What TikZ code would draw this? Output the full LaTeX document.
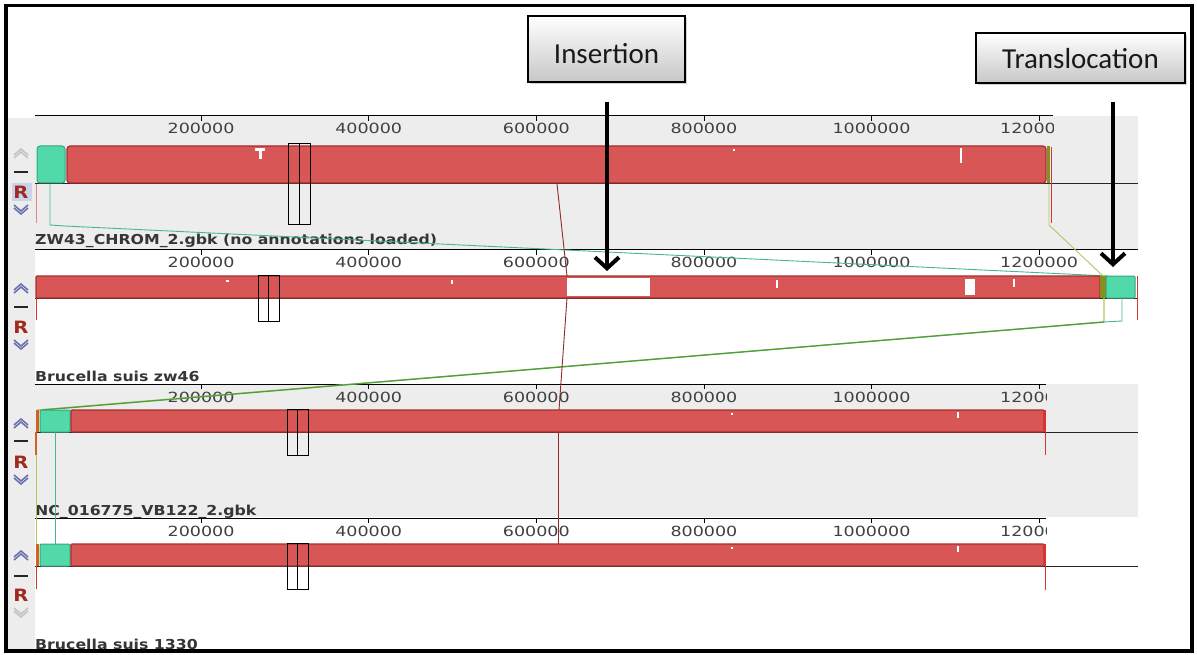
\documentclass[tikz,border=0pt]{standalone}
\usepackage{fontspec}
\usetikzlibrary{arrows.meta,shadows}
\newfontfamily\tickfont[FakeStretch=1.25]{DejaVu Sans}
\newfontfamily\labfont[FakeStretch=1.15]{DejaVu Sans}
\newfontfamily\callfont{Carlito}
\definecolor{panelgray}{HTML}{EDEDED}
\definecolor{blockred}{HTML}{D95656}
\definecolor{blockredd}{HTML}{A33030}
\definecolor{blockgreen}{HTML}{52D9A9}
\definecolor{blockgreend}{HTML}{35A57E}
\definecolor{tealline}{HTML}{44B894}
\definecolor{oliveline}{HTML}{B8C45E}
\definecolor{greenline}{HTML}{4C9E3E}
\definecolor{olivebar}{HTML}{86901E}
\definecolor{orangebar}{HTML}{D0641E}
\definecolor{lcbred}{HTML}{8E2B2B}
\definecolor{endred}{HTML}{D43636}
\definecolor{ctrlblue}{HTML}{6B74B0}
\definecolor{ctrlgray}{HTML}{C4C4C4}
\definecolor{rred}{HTML}{A02A1E}
\definecolor{rhigh}{HTML}{C9D3EA}
\definecolor{tickgray}{HTML}{404040}
\definecolor{labgray}{HTML}{363636}
\tikzset{
  redblock/.style={fill=blockred, draw=blockredd, line width=1.2pt, rounded corners=3pt},
  flatred/.style={fill=blockred, draw=blockredd, line width=1.2pt, rounded corners=1pt},
  greenblock/.style={fill=blockgreen, draw=blockgreend, line width=1pt, rounded corners=3pt},
  featbox/.style={draw=black, line width=0.8pt},
  rulerline/.style={draw=black, line width=1pt},
  axisline/.style={draw=black!85, line width=1pt},
  ticklab/.style={font=\tickfont\fontsize{14}{14}\selectfont, text=tickgray, anchor=base, inner sep=0pt},
  gname/.style={font=\labfont\bfseries\fontsize{13.7}{14}\selectfont, text=labgray, anchor=base west, inner sep=0pt},
  callout/.style={draw=black, line width=1.2pt, top color=white, bottom color=black!22,
     drop shadow={shadow xshift=2pt, shadow yshift=-2pt, opacity=0.35},
     font=\callfont\fontsize{29}{30}\selectfont, text=black!90, inner sep=0pt},
  bigarrow/.style={line width=4pt, -{Straight Barb[length=11pt,width=24pt]}},
  lcb/.style={line width=0.9pt},
  whitemark/.style={fill=white, draw=none},
  chev/.style={line width=1.6pt},
  rlabel/.style={font=\labfont\bfseries\fontsize{17}{17}\selectfont, text=rred, inner sep=0pt},
}
\begin{document}
\begin{tikzpicture}[x=1pt,y=-1pt]
\useasboundingbox (0,0) rectangle (1197,655);
\fill[white] (0,0) rectangle (1197,655);
% backgrounds
\fill[panelgray] (8,118) rectangle (35,651);
\fill[panelgray] (35,116) rectangle (1138,250);
\fill[panelgray] (35,384) rectangle (1138,517);
% rulers
\draw[rulerline] (35,116) -- (1053,116);
\draw[rulerline] (35,250) -- (1138,250);
\draw[rulerline] (35,384) -- (1046,384);
\draw[rulerline] (35,518) -- (1046,518);
% ticks and labels
\foreach \ry/\rb/\cx in {116/134/1053, 250/268/1140, 384/402/1046, 518/536/1046}{
  \begin{scope}
    \clip (35,\ry-2) rectangle (\cx,\rb+6);
    \foreach \i/\lab in {1/200000,2/400000,3/600000,4/800000,5/1000000,6/1200000}{
      \draw[black, line width=0.8pt] ({33.5+\i*167.6},\ry) -- ({33.5+\i*167.6},\ry+5);
      \node[ticklab] (t\ry\i) at ({33.5+\i*167.6},\rb) {\lab};
    }
  \end{scope}
}
% genome names
\node[gname] (n1) at (35,245) {ZW43\_CHROM\_2.gbk (no annotations loaded)};
\node[gname] (n2) at (35,381) {Brucella suis zw46};
\node[gname] (n3) at (35,515) {NC\_016775\_VB122\_2.gbk};
\node[gname] (n4) at (35,649) {Brucella suis 1330};
% axis lines
\draw[axisline] (35,184) -- (1138,184);
\draw[axisline] (35,298) -- (1138,298);
\draw[axisline] (35,432) -- (1138,432);
\draw[axisline] (35,566) -- (1138,566);
% connection coordinates
\coordinate (g1b) at (50,184);
\coordinate (g1k) at (50,225);
\coordinate (g2t) at (1108,276);
\coordinate (o1b) at (1049,184);
\coordinate (o1k) at (1049,225);
\coordinate (o2t) at (1103,276);
\coordinate (g2b) at (1122,298);
\coordinate (g2k) at (1122,321);
\coordinate (o2b) at (1104,298);
\coordinate (o2k) at (1104,322);
\coordinate (g3t) at (42,410);
\coordinate (o3t) at (37,410);
\coordinate (g3b) at (55,432);
\coordinate (g4t) at (55,544);
\coordinate (o3b) at (36.5,455);
\coordinate (o4t) at (36.5,544);
\coordinate (r1b) at (557,184);
\coordinate (r2t) at (567,276);
\coordinate (r2b) at (567,298);
\coordinate (r3t) at (559,410);
\coordinate (r3b) at (558,432);
\coordinate (r4t) at (558,544);
% connection lines
\draw[lcb, tealline] (g1b) -- (g1k) -- (65,226) -- (g2t);
\draw[lcb, oliveline] (o1b) -- (o1k) -- (o2t);
\draw[lcb, tealline] (g2b) -- (g2k) -- (o2k);
\draw[lcb, oliveline, line width=1.2pt] (o2b) -- (o2k) -- (o3t);
\draw[lcb, greenline, line width=1.3pt] (o2k) -- (g3t);
\draw[lcb, tealline] (g3b) -- (g4t);
\draw[lcb, oliveline] (o3b) -- (o4t);
\draw[lcb, lcbred] (r1b) -- (r2t);
\draw[lcb, lcbred] (r2b) -- (r3t);
\draw[lcb, lcbred] (r3b) -- (r4t);
% end ticks
\draw[line width=1pt, endred!60] (36,184) -- (36,223);
\draw[line width=1pt, endred] (1051,147) -- (1051,223);
\draw[line width=1pt, endred] (36,298) -- (36,320);
\draw[line width=1pt, endred] (1137,276) -- (1137,320);
\draw[line width=1.2pt, orangebar] (36,432) -- (36,455);
\draw[line width=1pt, endred] (1045,432) -- (1045,455);
\draw[line width=1pt, endred] (36,566) -- (36,589);
\draw[line width=1pt, endred] (1045,566) -- (1045,590);
% panel 1 blocks
\draw[greenblock] (37,146) rectangle (65,183);
\draw[redblock] (67,146) rectangle (1046,183);
\fill[olivebar] (1046.5,146) rectangle (1050,183);
\fill[whitemark] (255,148) rectangle (265,151);
\fill[whitemark] (258.5,148) rectangle (261.5,159);
\fill[whitemark] (733,149) rectangle (735,151);
\fill[whitemark] (959.5,148) rectangle (961.5,163);
% panel 2 blocks
\draw[flatred] (36,276) rectangle (1100,298);
\fill[olivebar] (1100,276) rectangle (1106,298);
\draw[greenblock, rounded corners=1pt] (1106,276) rectangle (1135,298);
\fill[whitemark] (567,278) rectangle (650,296);
\fill[whitemark] (965,279) rectangle (975,295);
\fill[whitemark] (226,280) rectangle (229,282);
\fill[whitemark] (451,280) rectangle (453,284);
\fill[whitemark] (776,280) rectangle (778,288);
\fill[whitemark] (1013,279) rectangle (1015,287);
% panel 3 blocks
\fill[orangebar] (35.5,410) rectangle (39,432);
\draw[greenblock, rounded corners=1pt] (40,410) rectangle (70,432);
\draw[flatred] (71,410) rectangle (1044,432);
\fill[endred] (1043,410) rectangle (1046,432);
\fill[whitemark] (731,413) rectangle (733,415);
\fill[whitemark] (957,412) rectangle (959,418);
% panel 4 blocks
\fill[orangebar] (35.5,544) rectangle (39,566);
\draw[greenblock, rounded corners=1pt] (40,544) rectangle (70,566);
\draw[flatred] (71,544) rectangle (1044,566);
\fill[endred] (1043,544) rectangle (1046,566);
\fill[whitemark] (731,547) rectangle (733,549);
\fill[whitemark] (957,546) rectangle (959,552);
% feature boxes
\draw[featbox] (288,143) rectangle (299,224);
\draw[featbox] (299,143) rectangle (310,224);
\draw[featbox] (258,275) rectangle (268,321);
\draw[featbox] (268,275) rectangle (279,321);
\draw[featbox] (287,409) rectangle (297.5,455);
\draw[featbox] (297.5,409) rectangle (308,455);
\draw[featbox] (287,543) rectangle (297.5,589);
\draw[featbox] (297.5,543) rectangle (308,589);
% left controls
\fill[rhigh] (12,183) rectangle (32,201);
\foreach \uy/\dy/\ry/\dc/\uc in {152/172/192/ctrlblue/ctrlgray, 287/307/327/ctrlblue/ctrlblue, 422/441/462/ctrlblue/ctrlblue, 554/576/595/ctrlgray/ctrlblue}{
  \draw[chev, \uc] (14,\uy+3) -- (21,\uy-3) -- (28,\uy+3);
  \draw[chev, \uc] (14,\uy+6) -- (21,\uy) -- (28,\uy+6);
  \draw[line width=2.5pt, black!85] (14,\dy) -- (28,\dy);
  \node[rlabel] (R\ry) at (21,\ry) {R};
  \draw[chev, \dc] (14,\ry+16) -- (21,\ry+22) -- (28,\ry+16);
  \draw[chev, \dc] (14,\ry+13) -- (21,\ry+19) -- (28,\ry+13);
}
% callouts
\node[callout, minimum width=157pt, minimum height=66pt, text height=30pt, text depth=1.3pt] (ins) at (606.5,49) {Insertion};
\node[callout, minimum width=209pt, minimum height=50pt, text height=22pt, text depth=1.3pt] (trans) at (1080.5,58) {Translocation};
\coordinate (insA) at (607,102);
\coordinate (insB) at (607,271);
\coordinate (trA) at (1113,102);
\coordinate (trB) at (1113,267);
\draw[bigarrow] (insA) -- (insB);
\draw[bigarrow] (trA) -- (trB);
% frame
\draw[line width=3.5pt] (6,5.5) rectangle (1192,651);
\end{tikzpicture}
\end{document}
